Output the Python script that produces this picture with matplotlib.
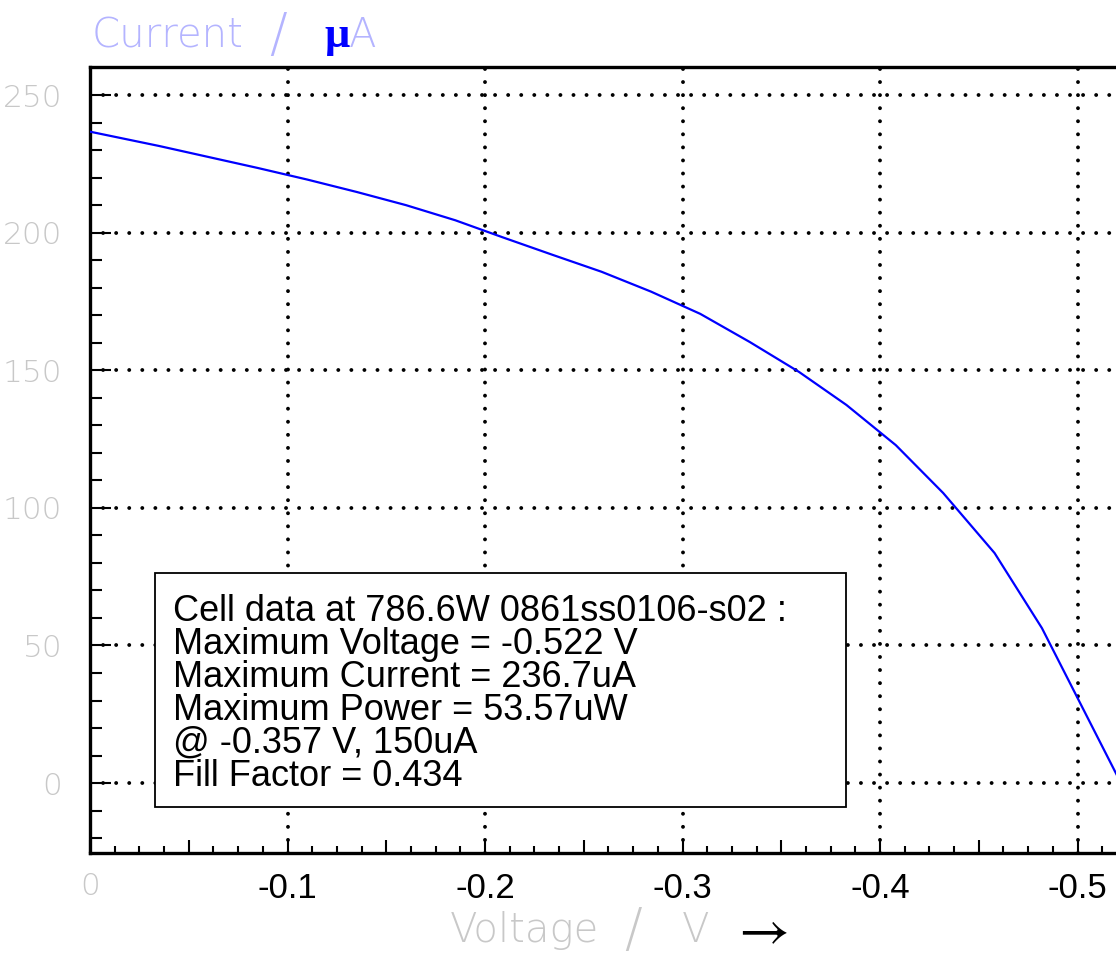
import numpy as np
import matplotlib
matplotlib.use("Agg")
import matplotlib.pyplot as plt
from matplotlib.patches import Rectangle
from matplotlib import font_manager as fm

# IV curve (voltage in V, current in uA)
voltage = [0.0, -0.035, -0.06, -0.085, -0.11, -0.135, -0.16, -0.185, -0.209, -0.234,
           -0.259, -0.284, -0.309, -0.334, -0.359, -0.383, -0.408, -0.432, -0.458,
           -0.482, -0.522]
current = [236.7, 231.5, 227.5, 223.5, 219.3, 214.8, 210.0, 204.5, 198.3, 192.0,
           185.8, 178.6, 170.5, 160.3, 149.4, 137.4, 122.8, 105.4, 83.6,
           56.3, 0.0]

x_major = [0.0, -0.05, -0.1, -0.15, -0.2, -0.25, -0.3, -0.35, -0.4, -0.45, -0.5]
x_labels = ['0', '', '-0.1', '', '-0.2', '', '-0.3', '', '-0.4', '', '-0.5']
x_grid = [-0.1, -0.2, -0.3, -0.4, -0.5]
y_major = [0, 50, 100, 150, 200, 250]
y_minor = [-20, -10, 10, 20, 30, 40, 60, 70, 80, 90, 110, 120, 130, 140, 160, 170,
           180, 190, 210, 220, 230, 240]

info_lines = ["Cell data at 786.6W 0861ss0106-s02 :",
              "Maximum Voltage = -0.522 V",
              "Maximum Current = 236.7uA",
              "Maximum Power = 53.57uW",
              "@ -0.357 V, 150uA",
              "Fill Factor = 0.434"]

# pick a thin font if one is around
thin_family, thin_weight = 'DejaVu Sans', 'normal'
for fam in ['DejaVu Sans', 'Roboto', 'Lato', 'Open Sans', 'Inter', 'Noto Sans']:
    ws = [f.weight for f in fm.fontManager.ttflist
          if f.name == fam and isinstance(f.weight, int) and f.weight <= 300]
    if ws:
        thin_family, thin_weight = fam, min(ws)
        break

W, H = 1116, 956
def fx(px):
    return px / W
def fy(py):
    return 1 - py / H

fig = plt.figure(figsize=(W / 100, H / 100), dpi=100)
# axes runs off the right edge like the original screenshot
ax = fig.add_axes([fx(90), fy(853), 0.55 * 1975 / W, (853 - 67) / H])
ax.set_xlim(0, -0.55)
ax.set_ylim(-25.4, 260.2)

grid_kw = dict(color='black', lw=2.8, linestyle=(0, (0.01, 3.35)),
               dash_capstyle='round', zorder=1)
for g in x_grid:
    ax.axvline(g, **grid_kw)
for g in y_major:
    ax.axhline(g, **grid_kw)

ax.plot(voltage, current, color='#0000ff', lw=1.6, zorder=3)

for s in ['left', 'bottom', 'top']:
    ax.spines[s].set_linewidth(2.4)
ax.spines['right'].set_visible(False)

ax.set_xticks(x_major, x_labels)
ax.set_xticks(np.arange(0, -0.55, -0.0125), minor=True)
ax.set_yticks(y_major, [str(v) for v in y_major])
ax.set_yticks(y_minor, minor=True)
ax.tick_params(axis='x', which='major', direction='in', length=9.5, width=1.5,
               pad=14, labelsize=25, top=False)
ax.tick_params(axis='x', which='minor', direction='in', length=5, width=1.5, top=False)
ax.tick_params(axis='y', which='major', direction='in', length=15, width=1.5,
               pad=20, labelsize=22.5, labelcolor='#c8c8c8', right=False)
ax.tick_params(axis='y', which='minor', direction='in', length=8.5, width=1.5, right=False)
for lab in ax.get_xticklabels():
    lab.set_fontfamily('Liberation Sans')
for lab in ax.get_yticklabels():
    lab.set_fontfamily(thin_family)
    lab.set_fontweight(thin_weight)
zero_lab = ax.get_xticklabels()[0]
zero_lab.set_color('#c8c8c8')
zero_lab.set_fontfamily(thin_family)
zero_lab.set_fontweight(thin_weight)
zero_lab.set_fontsize(22.5)

# info box
fig.patches.append(Rectangle((fx(155), fy(807)), fx(846) - fx(155), fy(573) - fy(807),
                             transform=fig.transFigure, facecolor='white',
                             edgecolor='black', lw=1.3, zorder=5))
for i, line in enumerate(info_lines):
    fig.text(fx(173), fy(621 + 33 * i), line, family='Liberation Sans',
             fontsize=26, va='baseline', ha='left', zorder=6)

# axis titles
lab_kw = dict(family=thin_family, fontweight=thin_weight, fontsize=29)
slash_kw = dict(family=thin_family, fontweight=thin_weight, fontsize=38)
fig.text(fx(450), fy(942), "Voltage", color='#c8c8c8', va='baseline', **lab_kw)
fig.text(fx(624), fy(946), "/", color='#c8c8c8', va='baseline', **slash_kw)
fig.text(fx(682), fy(942), "V", color='#c8c8c8', va='baseline', **lab_kw)
fig.text(fx(759), fy(930), r"$\rightarrow$", color='black', math_fontfamily='stix',
         fontsize=40, ha='center', va='center')

ycol = '#b4b4ff'
fig.text(fx(92), fy(47), "Current", color=ycol, va='baseline', **lab_kw)
fig.text(fx(269), fy(51), "/", color=ycol, va='baseline', **slash_kw)
fig.text(fx(324), fy(47), "\u03bc", color='#0000ff', family='Liberation Serif',
         fontweight='bold', fontsize=32, va='baseline')
fig.text(fx(349), fy(47), "A", color=ycol, va='baseline', **lab_kw)

fig.savefig("out.png", dpi=100)
